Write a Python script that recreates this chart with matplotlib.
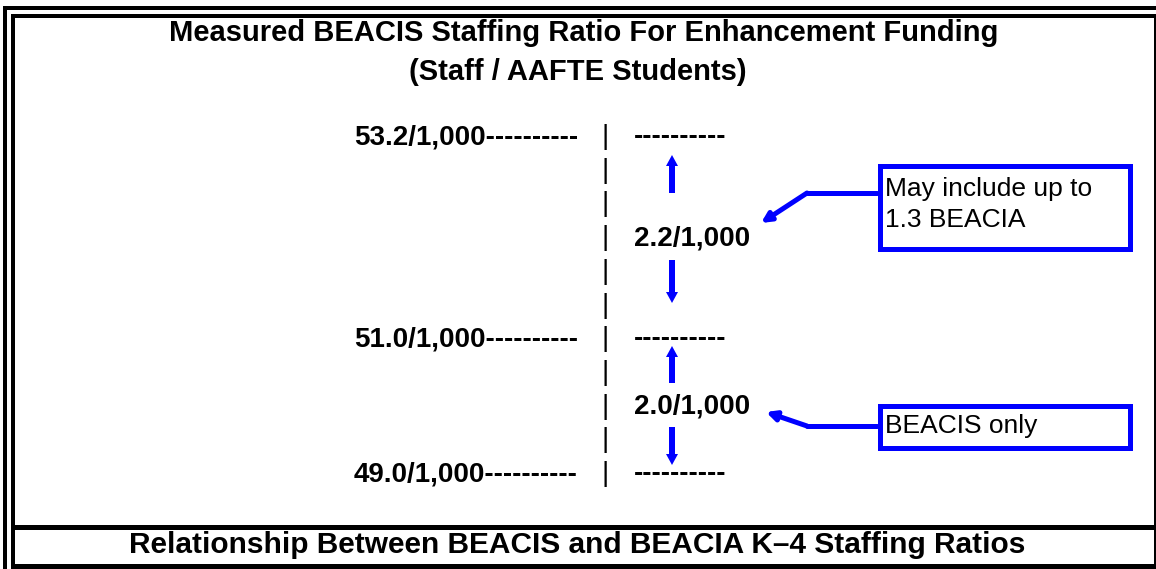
import matplotlib
matplotlib.use("Agg")
import matplotlib.pyplot as plt
from matplotlib.patches import Rectangle, FancyArrow

plt.rcParams["font.family"] = ["Liberation Sans", "DejaVu Sans"]

# text content
title_lines = ["Measured BEACIS Staffing Ratio For Enhancement Funding",
               "(Staff / AAFTE Students)"]
footer = "Relationship Between BEACIS and BEACIA K\u20134 Staffing Ratios"
levels = ["53.2/1,000", "51.0/1,000", "49.0/1,000"]
level_rows = [0, 6, 10]
gaps = ["2.2/1,000", "2.0/1,000"]
gap_rows = [3, 8]
notes = [["May include up to", "1.3 BEACIA"], ["BEACIS only"]]
n_rows = 11

# layout (pixels, y downwards)
W, H = 1156, 569
row0, row_h = 144, 33.7
pipe_x, left_end, right_start = 605, 578, 634
arrow_x = 672
blue = "#0000ff"


def px(p):
    return p * 72 / 100


def row_y(i):
    return row0 + row_h * i


fig = plt.figure(figsize=(W / 100, H / 100), dpi=100)
ax = fig.add_axes([0, 0, 1, 1])
ax.set_xlim(0, W)
ax.set_ylim(H, 0)
ax.axis("off")

# table frame
def seg(x0, y0, x1, y1, w, c="black"):
    ax.plot([x0, x1], [y0, y1], color=c, lw=px(w), solid_capstyle="butt")

seg(3, 8, W, 8, 4)
seg(11, 16, W, 16, 4)
seg(5, 6, 5, H, 4)
seg(13, 14, 13, H, 4)
seg(11, 526.5, W, 526.5, 5)
seg(11, 565.5, W, 565.5, 5)
seg(1155, 14, 1155, H, 2)

# titles
ax.text(584, 41, title_lines[0], ha="center", va="baseline",
        fontsize=21, fontweight="bold")
ax.text(578, 80, title_lines[1], ha="center", va="baseline",
        fontsize=21, fontweight="bold")
ax.text(577, 553, footer, ha="center", va="baseline",
        fontsize=21.5, fontweight="bold")

# pipe column
for i in range(n_rows):
    ax.text(pipe_x, row_y(i), "|", ha="center", va="baseline", fontsize=20)

# level rows
for lab, r in zip(levels, level_rows):
    ax.text(left_end, row_y(r), lab + "-" * 10, ha="right", va="baseline",
            fontsize=20, fontweight="bold")
    ax.text(right_start, row_y(r), "-" * 10, ha="left", va="baseline",
            fontsize=20, fontweight="bold")

# gap labels
for lab, r in zip(gaps, gap_rows):
    ax.text(right_start, row_y(r), lab, ha="left", va="baseline",
            fontsize=20, fontweight="bold")

# blue arrows between rows: (tail, tip)
arrows = [(193, 155), (260, 303), (383, 346), (427, 465)]
for y0, y1 in arrows:
    ax.add_patch(FancyArrow(arrow_x, y0, 0, y1 - y0, width=6, head_width=12,
                            head_length=11, length_includes_head=True,
                            color=blue, lw=0))

# callout boxes
boxes = [(877, 163, 1132, 251), (877, 403, 1132, 450)]
connectors = [((807, 193), (761, 223)), ((807, 426), (766, 412))]
text_base = [[196, 227], [433]]
for (x0, y0, x1, y1), (mid, tip), lines, bases in zip(boxes, connectors, notes, text_base):
    ax.add_patch(Rectangle((x0 + 2.5, y0 + 2.5), x1 - x0 - 5, y1 - y0 - 5,
                           fill=False, edgecolor=blue, lw=px(5)))
    ax.plot([x0, mid[0]], [mid[1], mid[1]], color=blue, lw=px(5),
            solid_capstyle="round")
    ax.annotate("", xy=tip, xytext=mid,
                arrowprops=dict(arrowstyle="-|>", color=blue, lw=px(5),
                                mutation_scale=14, shrinkA=0, shrinkB=0))
    for t, b in zip(lines, bases):
        ax.text(x0 + 8, b, t, ha="left", va="baseline", fontsize=19)

fig.savefig("out.png", dpi=100, facecolor="white")
